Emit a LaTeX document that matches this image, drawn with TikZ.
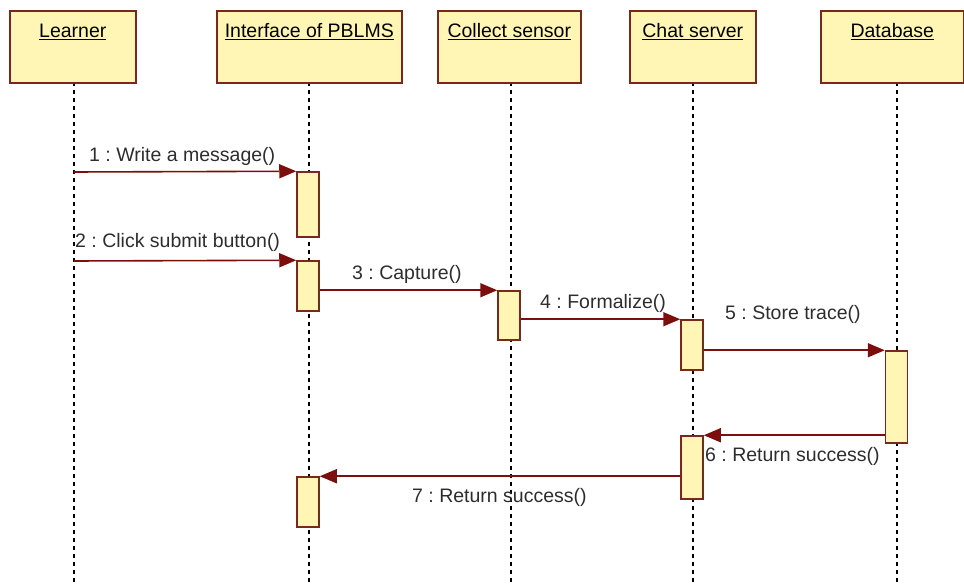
\documentclass[tikz,border=0pt]{standalone}
\usepackage{fontspec}
\setmainfont{Liberation Sans}
\usetikzlibrary{arrows.meta}
\definecolor{boxfill}{RGB}{255,245,180}
\definecolor{boxline}{RGB}{120,40,28}
\definecolor{msgline}{RGB}{125,14,14}
\definecolor{labtxt}{RGB}{45,45,45}
\frenchspacing
\tikzset{
  x=1pt, y=-1pt,
  head/.style={draw=boxline, fill=boxfill, line width=1.6pt, inner sep=0pt, anchor=north west},
  headtxt/.style={font=\fontsize{19.5}{22}\selectfont, text=black, inner sep=0pt},
  life/.style={draw=black, line width=1.4pt, dash pattern=on 4pt off 4pt},
  actbox/.style={draw=boxline, fill=boxfill, line width=1.5pt, inner sep=0pt, minimum width=22pt},
  msg/.style={draw=msgline, line width=1.6pt, -{Triangle[length=17pt,width=14pt]}},
  msglab/.style={font=\fontsize{19.5}{22}\selectfont, text=labtxt, inner sep=0pt, anchor=west},
}
\begin{document}
\begin{tikzpicture}
\useasboundingbox (0,0) rectangle (964,585);
% lifelines (drawn first)
\coordinate (l1) at (74,82);  \coordinate (l1e) at (74,585);
\coordinate (l2) at (309,82); \coordinate (l2e) at (309,585);
\coordinate (l3) at (511,82); \coordinate (l3e) at (511,585);
\coordinate (l4) at (693,82); \coordinate (l4e) at (693,585);
\coordinate (l5) at (897,82); \coordinate (l5e) at (897,585);
\foreach \a/\b in {l1/l1e,l2/l2e,l3/l3e,l4/l4e,l5/l5e} \draw[life] (\a) -- (\b);
% headers
\node[head, minimum width=126pt, minimum height=72pt] (h1) at (9,10) {};
\node[head, minimum width=185pt, minimum height=72pt] (h2) at (216,10) {};
\node[head, minimum width=143pt, minimum height=72pt] (h3) at (437,10) {};
\node[head, minimum width=126pt, minimum height=72pt] (h4) at (629,10) {};
\node[head, minimum width=143pt, minimum height=72pt] (h5) at (820,10) {};
\node[headtxt] (t1) at ([yshift=-22pt]h1.north) {\underline{Learner}};
\node[headtxt] (t2) at ([yshift=-22pt]h2.north) {\underline{Interface of PBLMS}};
\node[headtxt] (t3) at ([yshift=-22pt]h3.north) {\underline{Collect sensor}};
\node[headtxt] (t4) at ([yshift=-22pt]h4.north) {\underline{Chat server}};
\node[headtxt] (t5) at ([yshift=-22pt]h5.north) {\underline{Database}};
% activations
\node[actbox, minimum height=65pt] (a1) at (308,204.5) {};
\node[actbox, minimum height=50pt] (a2) at (308,286) {};
\node[actbox, minimum height=49pt] (a3) at (509,315.5) {};
\node[actbox, minimum height=50pt] (a4) at (692,345) {};
\node[actbox, minimum height=92pt] (a5) at (896.5,397) {};
\node[actbox, minimum height=63pt] (a6) at (692,467.5) {};
\node[actbox, minimum height=50pt] (a7) at (308,502) {};
% messages
\coordinate (s1) at (74,172);
\coordinate (s2) at (74,261);
\draw[msg] (s1) -- (a1.north west);
\draw[msg] (s2) -- (a2.north west);
\draw[msg] (a2.east |- a3.north) -- (a3.north west);
\draw[msg] (a3.east |- a4.north) -- (a4.north west);
\draw[msg] (a4.east |- a5.north) -- (a5.north west);
\draw[msg] (a5.west |- a6.north) -- (a6.north east);
\draw[msg] (a6.west |- a7.north) -- (a7.north east);
% labels
\node[msglab] (m1) at (89,156) {1 : Write a message()};
\node[msglab] (m2) at (75,242) {2 : Click submit button()};
\node[msglab] (m3) at (352,274) {3 : Capture()};
\node[msglab] (m4) at (540,303) {4 : Formalize()};
\node[msglab] (m5) at (725,314) {5 : Store trace()};
\node[msglab] (m6) at (705,456) {6 : Return success()};
\node[msglab] (m7) at (412,497) {7 : Return success()};
\end{tikzpicture}
\end{document}
